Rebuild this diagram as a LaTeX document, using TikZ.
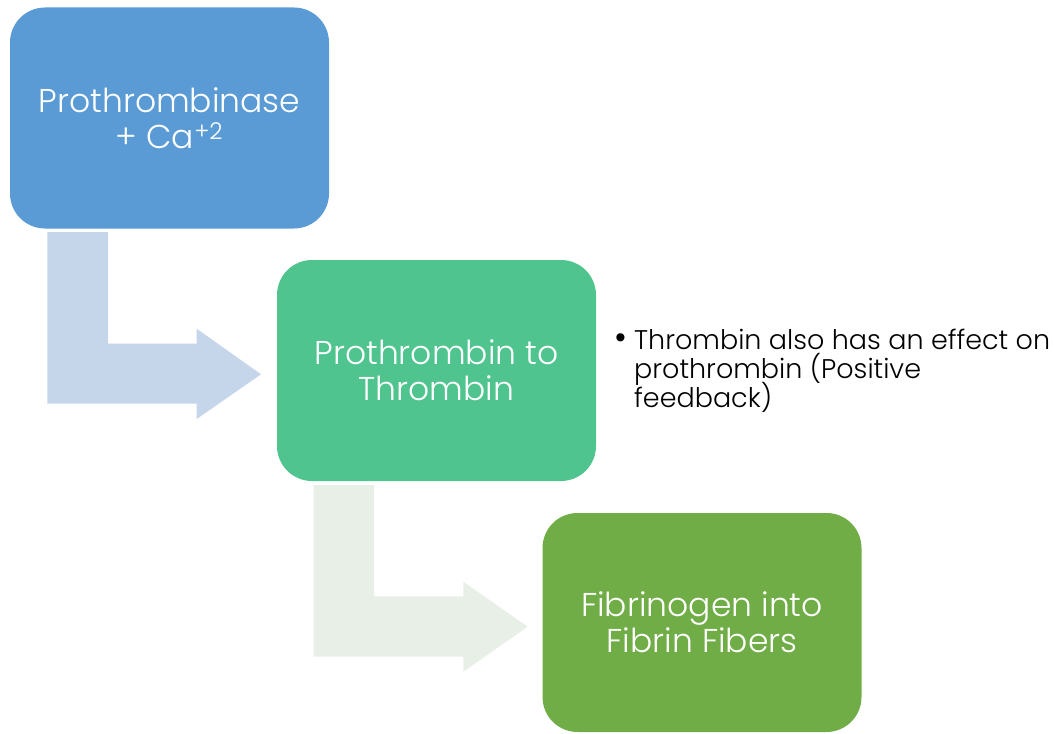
\documentclass[tikz,border=0pt]{standalone}
\usepackage{fontspec}
\setmainfont{Poppins}
\newfontfamily\popl{Poppins Light}
\definecolor{boxblue}{HTML}{5B9BD5}
\definecolor{boxteal}{HTML}{4FC48E}
\definecolor{boxgreen}{HTML}{70AD47}
\definecolor{arrblue}{HTML}{C5D5EA}
\definecolor{arrgreen}{HTML}{E8EFE6}
\newcommand{\tightlines}{\lineskiplimit=-100pt\relax}
\begin{document}
\begin{tikzpicture}[x=1pt,y=-1pt,
  stagebox/.style={rectangle,rounded corners=35pt,minimum width=319pt,minimum height=221pt,
    inner sep=0pt,text=white,align=center,font=\popl\fontsize{33}{36}\selectfont\tightlines}]
\useasboundingbox (0,0) rectangle (1054,733);
\node[stagebox,fill=boxblue] (b1) at (169.5,118) {Prothrombinase\\+ Ca\textsuperscript{+2}};
\node[stagebox,fill=boxteal] (b2) at (436.5,370.5) {Prothrombin to\\Thrombin};
\node[stagebox,fill=boxgreen,minimum height=219pt] (b3) at (702,622.5) {Fibrinogen into\\Fibrin Fibers};
% bent arrow 1
\fill[arrblue] (47.3,232) -- (108,232) -- (108,343.7) -- (196.7,343.7) -- (196.7,328.7)
  -- (261,374.3) -- (196.7,419) -- (196.7,403.7) -- (47.3,403.7) -- cycle;
% bent arrow 2
\fill[arrgreen] (313.7,485) -- (374,485) -- (374,596.3) -- (463.3,596.3) -- (463.3,581.7)
  -- (527.7,626.7) -- (463.3,671.7) -- (463.3,656.7) -- (313.7,656.7) -- cycle;
\node[anchor=north west,inner sep=0pt,align=left,font=\popl\fontsize{27}{28.8}\selectfont\tightlines] (note) at (614,329)
  {\makebox[20pt][l]{\scalebox{1.3}{\textbullet}}Thrombin also has an effect on\\\hspace*{20pt}prothrombin (Positive\\\hspace*{20pt}feedback)};
\end{tikzpicture}
\end{document}
